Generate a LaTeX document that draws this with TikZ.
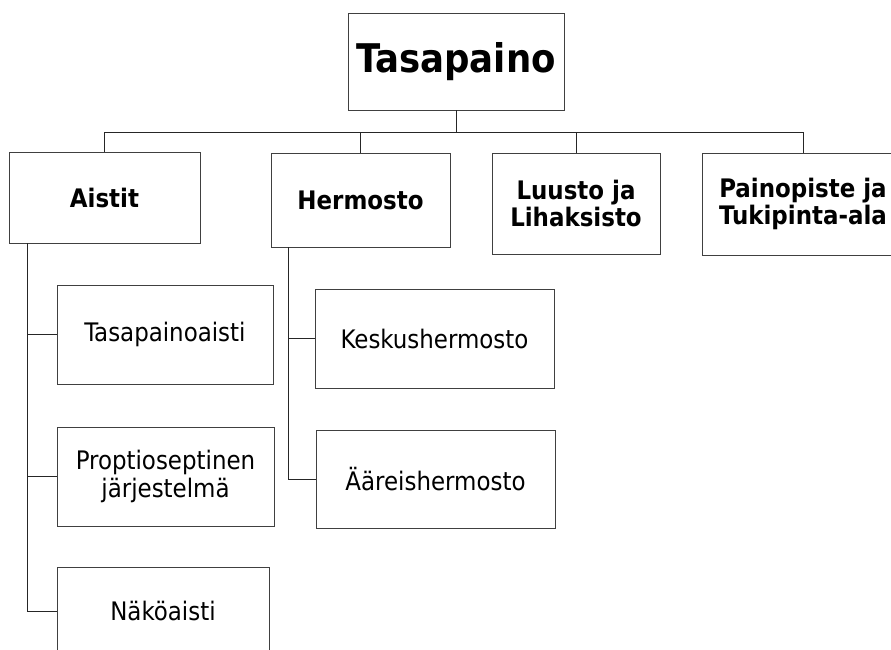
\documentclass[tikz,border=0pt]{standalone}
\usepackage{fontspec}
\setmainfont{DejaVu Sans Condensed}

\begin{document}
\begin{tikzpicture}[x=1pt,y=-1pt,
  box/.style={draw=black!75, line width=0.9pt, inner sep=0pt, align=center,
    font=\fontsize{25.5}{28}\selectfont},
  head/.style={box, font=\fontsize{25.5}{27}\selectfont\bfseries},
  link/.style={line width=0.9pt, black!85}]
\useasboundingbox (0,0) rectangle (891,649);
\node[box, font=\fontsize{39.5}{40}\selectfont\bfseries, minimum width=216pt, minimum height=97pt] (tasapaino) at (456,61.5) {Tasapaino};
% toinen taso
\node[head, minimum width=191pt, minimum height=91pt] (aistit) at (104.5,197.5) {Aistit};
\node[head, minimum width=179pt, minimum height=94pt] (hermosto) at (360.5,200) {Hermosto};
\node[head, minimum width=168pt, minimum height=101pt] (luusto) at (576,203.5) {Luusto ja\\Lihaksisto};
\node[head, minimum width=202pt, minimum height=102pt] (paino) at (803,204) {Painopiste ja\\Tukipinta-ala};
% aistit
\node[box, minimum width=216pt, minimum height=99pt] (tasa) at (165,334.5) {Tasapainoaisti};
\node[box, minimum width=217pt, minimum height=99pt] (prop) at (165.5,476.5) {Proptioseptinen\\järjestelmä};
\node[box, minimum width=212pt, minimum height=88pt] (nako) at (163,611) {Näköaisti};
% hermosto
\node[box, minimum width=239pt, minimum height=99pt] (kesk) at (434.5,338.5) {Keskushermosto};
\node[box, minimum width=239pt, minimum height=98pt] (aare) at (435.5,479) {Ääreishermosto};

\draw[link] (tasapaino.south) -- ++(0,21.5) coordinate (bus);
\draw[link] (aistit.north) -- (aistit.north |- bus) -- (paino.north |- bus) -- (paino.north);
\draw[link] (hermosto.north) -- (hermosto.north |- bus);
\draw[link] (luusto.north) -- (luusto.north |- bus);

\coordinate (atrunk) at ([xshift=19pt]aistit.south west);
\draw[link] (atrunk) |- (nako.west);
\draw[link] (atrunk) |- (tasa.west);
\draw[link] (atrunk) |- (prop.west);

\coordinate (htrunk) at ([xshift=18pt]hermosto.south west);
\draw[link] (htrunk) |- (aare.west);
\draw[link] (htrunk) |- (kesk.west);
\end{tikzpicture}
\end{document}
